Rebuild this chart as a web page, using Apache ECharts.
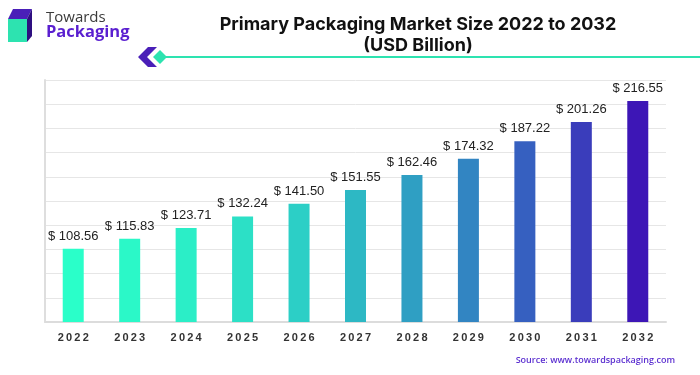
<!DOCTYPE html>
<html>
<head>
<meta charset="utf-8">
<script src="https://cdn.jsdelivr.net/npm/echarts@6/dist/echarts.min.js"></script>
<style>
  html, body { margin: 0; padding: 0; background: #fff; }
  #chart { width: 700px; height: 375px; }
</style>
</head>
<body>
<div id="chart"></div>
<script>
// ===== data =====
const years = ['2022', '2023', '2024', '2025', '2026', '2027', '2028', '2029', '2030', '2031', '2032'];
const marketSize = [108.56, 115.83, 123.71, 132.24, 141.50, 151.55, 162.46, 174.32, 187.22, 201.26, 216.55];
const barColors = ['#2affc9', '#2bf8c8', '#2beec7', '#2ce0c6', '#2ccfc6', '#2db8c4', '#2f9fc3', '#3285c2', '#3660c0', '#3a3dbb', '#3d16b6'];

const chart = echarts.init(document.getElementById('chart'));

function spaced(s) {
  // year labels in the picture are letter-spaced
  return s.split('').join('\u2009');
}

chart.setOption({
  animation: false,
  title: {
    text: 'Primary Packaging Market Size 2022 to 2032\n(USD Billion)',
    left: 413,
    top: 9,
    textAlign: 'center',
    textStyle: {
      fontFamily: 'Inter',
      fontWeight: 'bold',
      fontSize: 18,
      lineHeight: 21,
      color: '#111'
    }
  },
  grid: { left: 45, right: 34, top: 80, bottom: 53 },
  xAxis: {
    type: 'category',
    data: years,
    axisTick: { show: false },
    axisLine: { lineStyle: { color: '#dcdcdc', width: 2 } },
    axisLabel: {
      margin: 10,
      fontFamily: 'Liberation Sans',
      fontSize: 11,
      fontWeight: 'bold',
      color: '#333',
      formatter: spaced
    }
  },
  yAxis: [
    {
      // scale for the bars
      type: 'value',
      min: 55,
      max: 232,
      show: false
    },
    {
      // gridlines of the picture
      type: 'value',
      min: 0,
      max: 10,
      interval: 1,
      position: 'left',
      axisLabel: { show: false },
      axisTick: { show: false },
      axisLine: { show: true, lineStyle: { color: '#dedede', width: 2 } },
      splitLine: { lineStyle: { color: '#e6e6e6', width: 1 } }
    }
  ],
  series: [
    {
      type: 'bar',
      yAxisIndex: 0,
      barWidth: 21,
      data: marketSize.map((v, i) => ({ value: v, itemStyle: { color: barColors[i] } })),
      label: {
        show: true,
        position: 'top',
        distance: 6,
        fontFamily: 'Liberation Sans',
        fontSize: 13,
        color: '#222',
        formatter: p => '$ ' + p.value.toFixed(2)
      }
    }
  ],
  graphic: [
    // logo cube
    { type: 'polygon', shape: { points: [[13, 9], [32, 9], [27, 19], [8, 19]] }, style: { fill: '#4a1fb8' } },
    { type: 'polygon', shape: { points: [[27, 19], [32, 9], [32, 36], [27, 42]] }, style: { fill: '#2e0f80' } },
    { type: 'rect', shape: { x: 8, y: 19, width: 19, height: 23 }, style: { fill: '#2de3b0' } },
    { type: 'text', left: 46, top: 10, style: { text: 'Towards', font: '500 15px "Open Sans"', fill: '#3a3a3a' } },
    { type: 'text', left: 46, top: 24, style: { text: 'Packaging', font: 'bold 16.5px "Open Sans"', fill: '#5a1fd0' } },
    // title underline decoration
    { type: 'line', shape: { x1: 160, y1: 57, x2: 700, y2: 57 }, style: { stroke: '#2de3b0', lineWidth: 2 } },
    { type: 'polygon', shape: { points: [[138, 57], [148, 47], [157, 47], [147, 57], [157, 67], [148, 67]] }, style: { fill: '#4a1fb8' } },
    { type: 'polygon', shape: { points: [[160, 50], [167, 57], [160, 64], [153, 57]] }, style: { fill: '#2de3b0' } },
    // source
    { type: 'text', right: 25, top: 356, style: { text: 'Source: www.towardspackaging.com', font: '600 9px "Open Sans"', fill: '#5b2fd0' } }
  ]
});
</script>
</body>
</html>
